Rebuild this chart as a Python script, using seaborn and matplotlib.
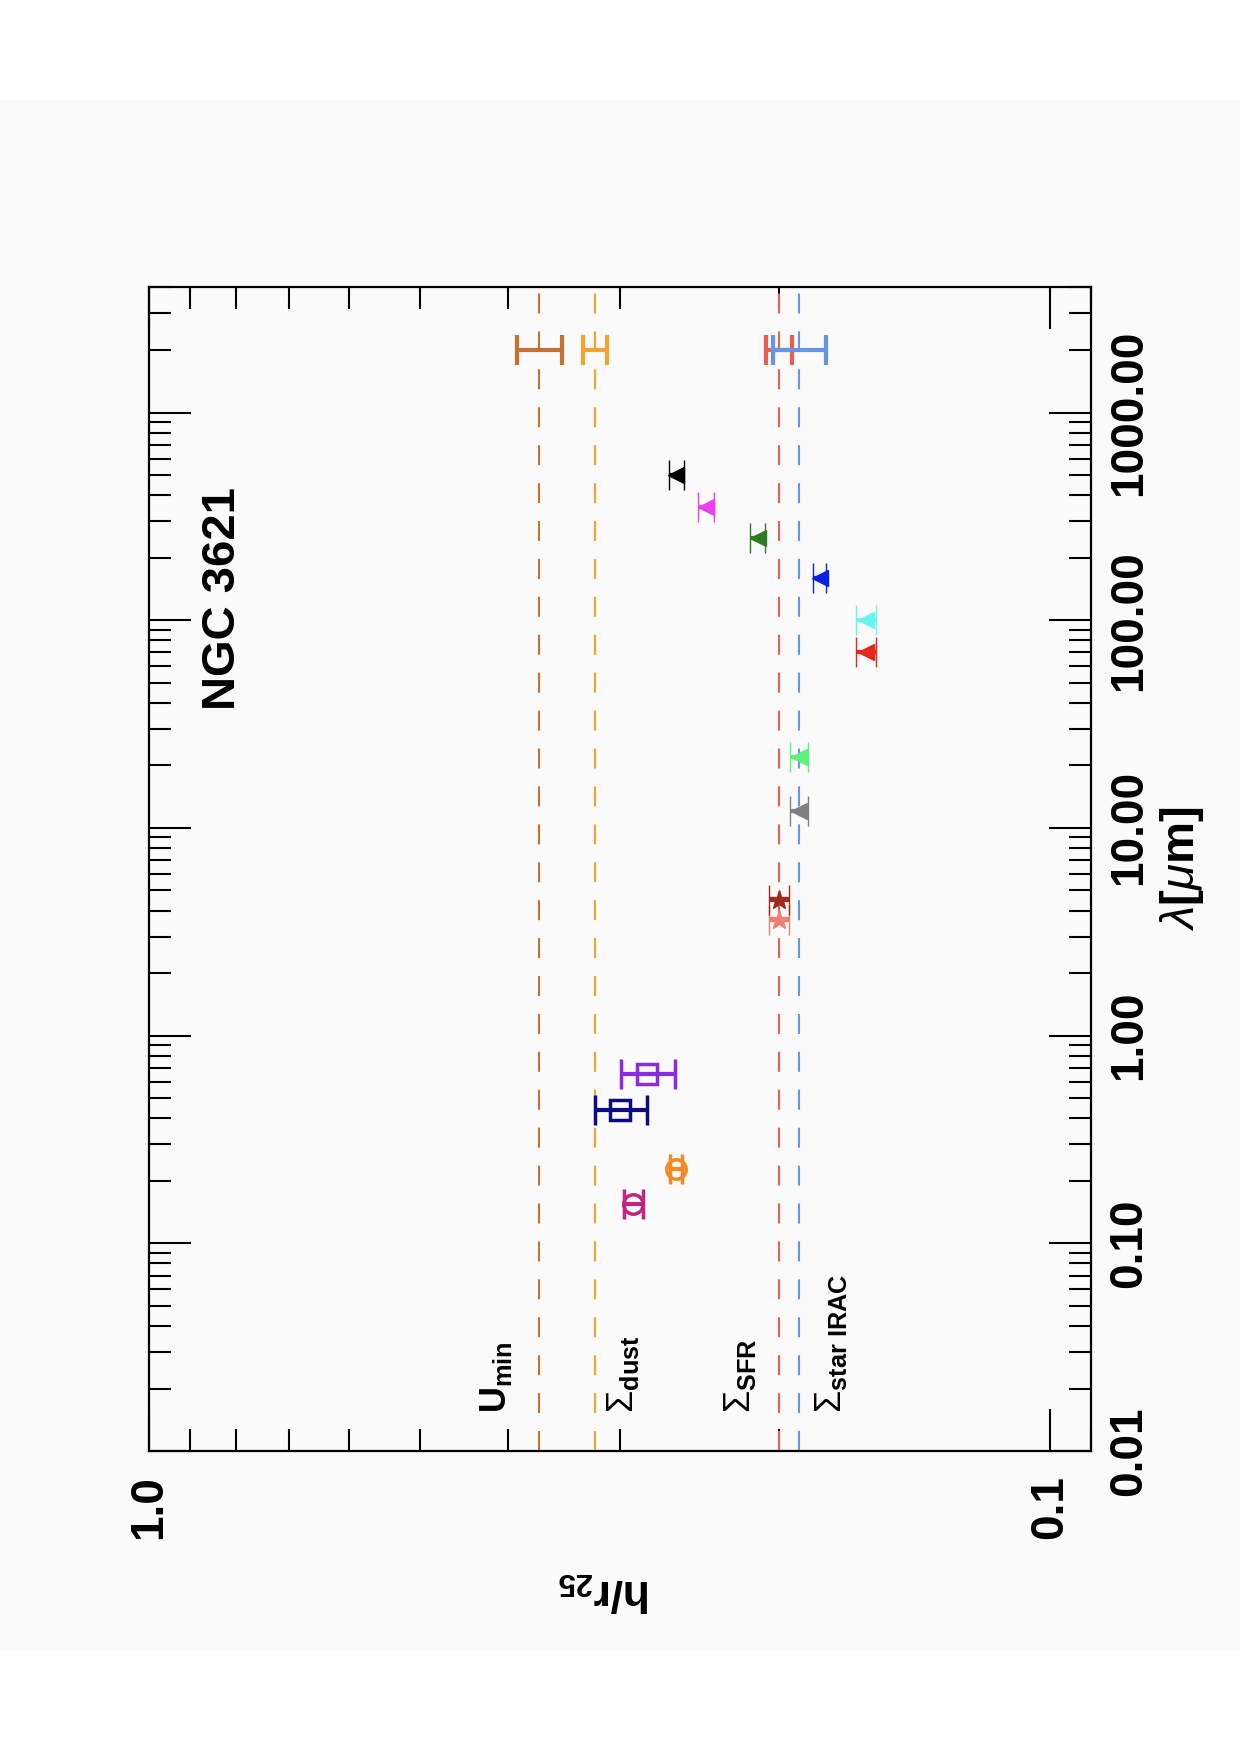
import numpy as np
import pandas as pd
import matplotlib
matplotlib.use('Agg')
import matplotlib.pyplot as plt
import seaborn as sns
from matplotlib.patches import Rectangle
from matplotlib.ticker import LogLocator, NullFormatter

# photometric bands: wavelength (micron), disk scale length h/r25 and error
band_names = ['FUV', 'NUV', 'B', 'R', 'IRAC 3.6', 'IRAC 4.5', 'WISE 12', 'WISE 22',
              'PACS 70', 'PACS 100', 'PACS 160', 'SPIRE 250', 'SPIRE 350', 'SPIRE 500']
band_wave = [0.154, 0.227, 0.44, 0.65, 3.6, 4.5, 12.0, 22.0, 70.0, 100.0, 160.0, 250.0, 350.0, 500.0]
band_h = [0.290, 0.260, 0.300, 0.280, 0.200, 0.200, 0.190, 0.190, 0.160, 0.160, 0.180, 0.211, 0.241, 0.260]
band_err = [0.007, 0.004, 0.020, 0.019, 0.005, 0.005, 0.0045, 0.0045, 0.004, 0.004, 0.003, 0.004, 0.005, 0.005]
band_colors = ['#c0267e', '#f28a22', '#0b0b8a', '#8a2be2', '#f08070', '#a02a22', '#808080', '#5ff07a',
               '#e8261a', '#66f5f0', '#0a22e0', '#2e7d22', '#ee40ee', '#000000']
band_markers = ['o', 'o', 's', 's', '*', '*', '<', '<', '<', '<', '<', '<', '<', '<']

# derived profiles (dashed lines, error bar shown at 2000 micron)
prof_labels = [r'$\mathbf{U_{min}}$', r'$\Sigma_{\mathbf{dust}}$',
               r'$\Sigma_{\mathbf{SFR}}$', r'$\Sigma_{\mathbf{star\ IRAC}}$']
prof_h = [0.369, 0.320, 0.200, 0.190]
prof_err = [0.021, 0.0095, 0.0065, 0.013]
prof_colors = ['#c8702f', '#f3a42c', '#e8604e', '#6495ed']
prof_wave = 2000.0

lam_ticks = [0.01, 0.1, 1.0, 10.0, 100.0, 1000.0]
lam_ticklabels = ['0.01', '0.10', '1.00', '10.00', '100.00', '1000.00']
h_ticks = [1.0, 0.1]
h_ticklabels = ['1.0', '0.1']

df = pd.DataFrame({'band': band_names, 'wave': band_wave, 'h': band_h, 'err': band_err,
                   'color': band_colors, 'marker': band_markers})

sns.set_theme(style='ticks')
plt.rcParams['font.family'] = ['Liberation Sans', 'DejaVu Sans']
plt.rcParams['font.weight'] = 'bold'
plt.rcParams['text.color'] = 'black'
plt.rcParams['axes.labelcolor'] = 'black'
plt.rcParams['xtick.color'] = 'black'
plt.rcParams['ytick.color'] = 'black'
plt.rcParams['mathtext.fontset'] = 'custom'
plt.rcParams['mathtext.rm'] = 'Liberation Sans:weight=normal'
plt.rcParams['mathtext.bf'] = 'Liberation Sans:weight=bold'
plt.rcParams['mathtext.it'] = 'Liberation Sans:style=italic:weight=normal'

fig = plt.figure(figsize=(12.4, 17.55), dpi=100, facecolor='#fafafa')
fig.add_artist(Rectangle((0, 1 - 100 / 1755), 1, 100 / 1755, transform=fig.transFigure,
                         fc='#fefefe', ec='none', zorder=-5))
fig.add_artist(Rectangle((0, 0), 1, 105 / 1755, transform=fig.transFigure,
                         fc='#fefefe', ec='none', zorder=-5))

ax = fig.add_axes([0.1202, 0.1732, 0.7597, 0.6630])
ax.set_facecolor('#fafafa')
ax.set_xscale('log')
ax.set_yscale('log')
ax.set_xlim(1.0, 0.09)
ax.set_ylim(0.01, 4000)

# profile lines + their error bars
for h, e, c in zip(prof_h, prof_err, prof_colors):
    ax.axvline(h, color=c, lw=1.5, ls=(0, (9.6, 8.6)), zorder=1)
    ax.errorbar(h, prof_wave, xerr=e, fmt='none', ecolor=c, elinewidth=3,
                capsize=11, capthick=3, zorder=3)

# band measurements
for _, r in df.iterrows():
    m = r['marker']
    if m == '<':
        kw = dict(ms=12, mfc=r['color'], mew=1)
    elif m == '*':
        kw = dict(ms=15, mfc=r['color'], mew=1)
    else:
        kw = dict(ms=15 if m == 's' else 14, mfc='none', mew=2.5)
    ax.errorbar(r['h'], r['wave'], xerr=r['err'], fmt=m, color=r['color'], mec=r['color'],
                elinewidth=3, capsize=11, capthick=3.5, zorder=4, **kw)

# profile labels near the bottom
label_h = [0.402, 0.290, 0.2153, 0.1707]
for h, t in zip(label_h, prof_labels):
    ax.text(h, 0.0153, t, rotation=90, rotation_mode='anchor', ha='left', va='baseline',
            fontsize=26, color='black')

ax.text(0.8024, 37.1, 'NGC 3621', rotation=90, rotation_mode='anchor', ha='left',
        va='baseline', fontsize=34, fontweight='bold')

# ticks
ax.set_yticks(lam_ticks, lam_ticklabels)
ax.yaxis.set_minor_locator(LogLocator(base=10, subs=np.arange(2, 10), numticks=30))
ax.yaxis.set_minor_formatter(NullFormatter())
ax.set_xticks(h_ticks, h_ticklabels)
ax.xaxis.set_minor_locator(LogLocator(base=10, subs=np.arange(2, 10), numticks=30))
ax.xaxis.set_minor_formatter(NullFormatter())

ax.tick_params(which='both', direction='in', top=True, bottom=True, left=True, right=True,
               labelleft=False, labelright=True, labeltop=False, labelbottom=True,
               color='black', width=1.5)
ax.tick_params(which='major', length=30)
ax.tick_params(which='minor', length=16)
ax.tick_params(axis='x', labelsize=33, pad=17, labelrotation=90)
ax.tick_params(axis='y', labelsize=33, pad=11.5, labelrotation=90)
plt.setp(ax.get_yticklabels(), va='center', fontweight='bold')
plt.setp(ax.get_xticklabels(), fontweight='bold')

for sp in ax.spines.values():
    sp.set_color('black')
    sp.set_linewidth(1.6)

ax.set_ylabel(r'$\lambda$[$\mu$m]', fontsize=34, fontweight='bold')
ax.yaxis.set_label_position('right')
ax.yaxis.set_label_coords(1.071, 0.5)
ax.set_xlabel(r'$\mathbf{h/r_{25}}$', fontsize=32, rotation=180)
ax.xaxis.set_label_coords(0.483, -0.102)

fig.savefig('out.png', dpi=100, facecolor=fig.get_facecolor())
